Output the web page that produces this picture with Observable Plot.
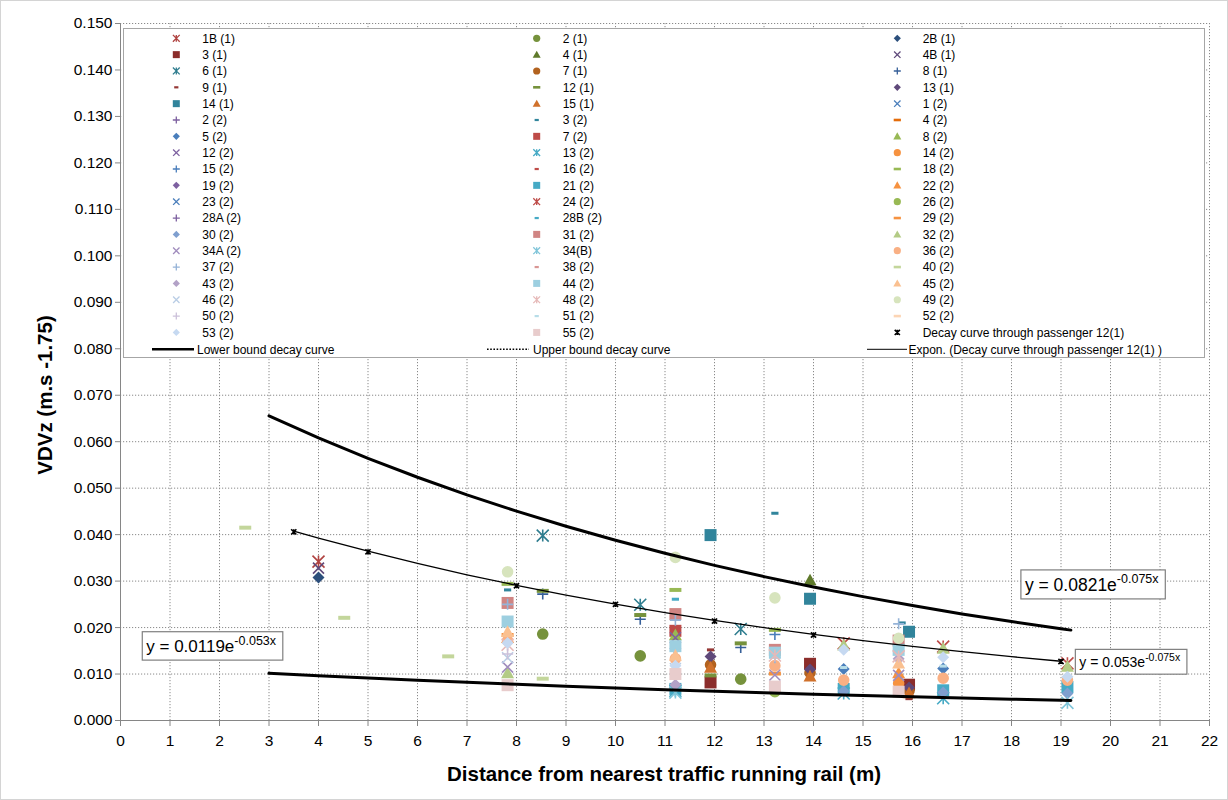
<!DOCTYPE html>
<html>
<head>
<meta charset="utf-8">
<script src="https://cdn.jsdelivr.net/npm/d3@7"></script>
<script src="https://cdn.jsdelivr.net/npm/@observablehq/plot@0.6"></script>
<style>
  html, body { margin: 0; padding: 0; background: #ffffff; }
  #chart { width: 1228px; height: 800px; }
  #chart svg { display: block; }
</style>
</head>
<body>
<div id="chart"></div>
<script>
// Passenger series, in legend order
const seriesNames = ["1B (1)", "2 (1)", "2B (1)", "3 (1)", "4 (1)", "4B (1)", "6 (1)", "7 (1)", "8 (1)",
  "9 (1)", "12 (1)", "13 (1)", "14 (1)", "15 (1)", "1 (2)", "2 (2)", "3 (2)", "4 (2)", "5 (2)", "7 (2)",
  "8 (2)", "12 (2)", "13 (2)", "14 (2)", "15 (2)", "16 (2)", "18 (2)", "19 (2)", "21 (2)", "22 (2)",
  "23 (2)", "24 (2)", "26 (2)", "28A (2)", "28B (2)", "29 (2)", "30 (2)", "31 (2)", "32 (2)", "34A (2)",
  "34(B)", "36 (2)", "37 (2)", "38 (2)", "40 (2)", "43 (2)", "44 (2)", "45 (2)", "46 (2)", "48 (2)",
  "49 (2)", "50 (2)", "51 (2)", "52 (2)", "53 (2)", "55 (2)"];

// Marker shape of each series
const seriesMarkers = ["star", "circle", "diamond", "square", "triangle", "x", "star", "circle", "plus",
  "short dash", "long dash", "diamond", "square", "triangle", "x", "plus", "short dash", "long dash", "diamond", "square",
  "triangle", "x", "star", "circle", "plus", "short dash", "long dash", "diamond", "square", "triangle",
  "x", "star", "circle", "plus", "short dash", "long dash", "diamond", "square", "triangle", "x",
  "star", "circle", "plus", "short dash", "long dash", "diamond", "square", "triangle", "x", "star",
  "circle", "plus", "short dash", "long dash", "diamond", "square"];

// Marker colour of each series
const seriesColors = ["#b04341", "#76923c", "#2c4f7c", "#8b2d2b", "#5f7a2b", "#604a7b", "#2f7d8f", "#b2621f", "#376099",
  "#953735", "#76923c", "#5f497a", "#31849b", "#d0712b", "#4a7ebb", "#7d60a0", "#31859c", "#e46c0a", "#4a7ebb", "#be4b48",
  "#98b954", "#7d60a0", "#46aac5", "#f69240", "#4a7ebb", "#be4b48", "#98b954", "#7d60a0", "#46aac5", "#f69240",
  "#4a7ebb", "#be4b48", "#98b954", "#7d60a0", "#46aac5", "#f69240", "#7f9fcf", "#d08583", "#b3cb85", "#a08cbd",
  "#80c5d9", "#f9b084", "#95b3d7", "#d99694", "#c3d69b", "#b3a2c7", "#9dcfe0", "#fac090", "#b9cde5", "#e6b9b8",
  "#d7e4bd", "#ccc1da", "#b7dde8", "#fcd5b5", "#c6d9f1", "#e8cccc"];

// Measured VDVz readings: series, distance from rail (m), VDVz
const obsSeries = [
  "40 (2)",
  "1B (1)", "4B (1)", "2B (1)",
  "40 (2)",
  "40 (2)",
  "49 (2)", "18 (2)", "3 (2)", "31 (2)", "37 (2)", "44 (2)", "45 (2)", "29 (2)", "22 (2)", "36 (2)", "53 (2)", "48 (2)", "50 (2)", "46 (2)", "34A (2)", "32 (2)", "55 (2)",
  "6 (1)", "12 (1)", "8 (1)", "2 (1)", "40 (2)",
  "6 (1)", "12 (1)", "8 (1)", "2 (1)",
  "49 (2)", "18 (2)", "28B (2)", "31 (2)", "37 (2)", "7 (2)", "8 (2)", "12 (2)", "44 (2)", "30 (2)", "45 (2)", "36 (2)", "53 (2)", "46 (2)", "55 (2)", "43 (2)", "21 (2)", "13 (2)", "34(B)",
  "14 (1)", "9 (1)", "13 (1)", "7 (1)", "15 (1)", "12 (1)", "3 (1)",
  "6 (1)", "12 (1)", "8 (1)", "2 (1)",
  "3 (2)", "49 (2)", "18 (2)", "15 (2)", "31 (2)", "44 (2)", "48 (2)", "37 (2)", "36 (2)", "29 (2)", "34A (2)", "55 (2)", "26 (2)",
  "4 (1)", "14 (1)", "3 (1)", "13 (1)", "7 (1)", "15 (1)",
  "24 (2)", "32 (2)", "53 (2)", "51 (2)", "5 (2)", "36 (2)", "21 (2)", "30 (2)", "13 (2)",
  "37 (2)", "3 (2)", "49 (2)", "31 (2)", "44 (2)", "48 (2)", "43 (2)", "45 (2)", "22 (2)", "34A (2)", "14 (2)", "55 (2)",
  "14 (1)", "3 (1)", "13 (1)", "7 (1)", "15 (1)", "9 (1)",
  "24 (2)", "32 (2)", "53 (2)", "51 (2)", "5 (2)", "36 (2)", "21 (2)", "30 (2)", "13 (2)",
  "24 (2)", "32 (2)", "53 (2)", "36 (2)", "21 (2)", "30 (2)", "34(B)"];

const obsDistance = [
  2.52,
  4.0, 4.0, 4.0,
  4.52,
  6.62,
  7.82, 7.82, 7.82, 7.82, 7.82, 7.82, 7.82, 7.82, 7.82, 7.82, 7.82, 7.82, 7.82, 7.82, 7.82, 7.82, 7.82,
  8.53, 8.53, 8.53, 8.53, 8.53,
  10.5, 10.5, 10.5, 10.5,
  11.21, 11.21, 11.21, 11.21, 11.21, 11.21, 11.21, 11.21, 11.21, 11.21, 11.21, 11.21, 11.21, 11.21, 11.21, 11.21, 11.21, 11.21, 11.21,
  11.92, 11.92, 11.92, 11.92, 11.92, 11.92, 11.92,
  12.53, 12.53, 12.53, 12.53,
  13.22, 13.22, 13.22, 13.22, 13.22, 13.22, 13.22, 13.22, 13.22, 13.22, 13.22, 13.22, 13.22,
  13.93, 13.93, 13.93, 13.93, 13.93, 13.93,
  14.61, 14.61, 14.61, 14.61, 14.61, 14.61, 14.61, 14.61, 14.61,
  15.72, 15.79, 15.72, 15.72, 15.72, 15.72, 15.72, 15.72, 15.72, 15.72, 15.72, 15.72,
  15.93, 15.93, 15.93, 15.93, 15.93, 15.93,
  16.62, 16.62, 16.62, 16.62, 16.62, 16.62, 16.62, 16.62, 16.62,
  19.13, 19.13, 19.13, 19.13, 19.13, 19.13, 19.13];

const obsVDV = [
  0.0415,
  0.0342, 0.0328, 0.0308,
  0.0221,
  0.0138,
  0.0320, 0.0294, 0.0281, 0.0253, 0.0250, 0.0213, 0.0191, 0.0184, 0.0178, 0.0172, 0.0167, 0.0163, 0.0143, 0.0135, 0.0115, 0.0102, 0.0076,
  0.0398, 0.0279, 0.0272, 0.0186, 0.0090,
  0.0249, 0.0227, 0.0218, 0.0139,
  0.0351, 0.0281, 0.0261, 0.0229, 0.0216, 0.0193, 0.0184, 0.0178, 0.0160, 0.0155, 0.0140, 0.0133, 0.0118, 0.0112, 0.0100, 0.0077, 0.0068, 0.0064, 0.0060,
  0.0399, 0.0152, 0.0138, 0.0120, 0.0114, 0.0097, 0.0082,
  0.0197, 0.0166, 0.0157, 0.0089,
  0.0446, 0.0264, 0.0195, 0.0185, 0.0152, 0.0146, 0.0140, 0.0135, 0.0118, 0.0101, 0.0098, 0.0073, 0.0062,
  0.0302, 0.0262, 0.0122, 0.0110, 0.0103, 0.0095,
  0.0166, 0.0162, 0.0152, 0.0114, 0.0111, 0.0087, 0.0068, 0.0063, 0.0058,
  0.0208, 0.0210, 0.0177, 0.0172, 0.0152, 0.0138, 0.0133, 0.0123, 0.0102, 0.0097, 0.0080, 0.0062,
  0.0191, 0.0077, 0.0071, 0.0064, 0.0059, 0.0047,
  0.0159, 0.0155, 0.0136, 0.0117, 0.0112, 0.0091, 0.0065, 0.0060, 0.0048,
  0.0123, 0.0116, 0.0094, 0.0087, 0.0072, 0.0058, 0.0038];

// Decay curve through passenger 12(1)
const decayDistance = [3.5, 5, 8, 10, 12, 14, 19.0];
const decayVDV = [0.0406, 0.0363, 0.0290, 0.0250, 0.0214, 0.0184, 0.0127];

// Exponential curves y = a·e^(-b·x) as stated by their labels
const fitNames = ["Lower bound decay curve", "Upper bound decay curve", "Expon. (Decay curve through passenger 12(1) )"];
const fitA = [0.0119, 0.0821, 0.053];
const fitB = [0.053, 0.075, 0.075];
const boundDistances = [3, 4, 5, 6, 7, 8, 9, 10, 11, 12, 13, 14, 15, 16, 17, 18, 19, 19.2];
const trendDistances = [3.5, 4, 5, 6, 7, 8, 9, 10, 11, 12, 13, 14, 15, 16, 17, 18, 19];

// Axis ticks
const xTicks = [0, 1, 2, 3, 4, 5, 6, 7, 8, 9, 10, 11, 12, 13, 14, 15, 16, 17, 18, 19, 20, 21, 22];
const yTicks = [0, 0.01, 0.02, 0.03, 0.04, 0.05, 0.06, 0.07, 0.08, 0.09, 0.1, 0.11, 0.12, 0.13, 0.14, 0.15];

const FONT = "'Liberation Sans', Arial, sans-serif";

// Marker shapes (s = half size in px)
function makeSymbol(kind, s) {
  return {
    draw(p) {
      switch (kind) {
        case "diamond":
          p.moveTo(0, -s); p.lineTo(s, 0); p.lineTo(0, s); p.lineTo(-s, 0); p.closePath(); break;
        case "square":
          p.rect(-s, -s, 2 * s, 2 * s); break;
        case "triangle":
          p.moveTo(0, -s); p.lineTo(s, s * 0.8); p.lineTo(-s, s * 0.8); p.closePath(); break;
        case "circle":
          p.moveTo(s, 0); p.arc(0, 0, s, 0, 2 * Math.PI); break;
        case "x":
          p.moveTo(-s, -s); p.lineTo(s, s); p.moveTo(s, -s); p.lineTo(-s, s); break;
        case "star":
          p.moveTo(-s, -s); p.lineTo(s, s); p.moveTo(s, -s); p.lineTo(-s, s);
          p.moveTo(0, -s); p.lineTo(0, s); break;
        case "plus":
          p.moveTo(-s, 0); p.lineTo(s, 0); p.moveTo(0, -s); p.lineTo(0, s); break;
        case "short dash": {
          const w = s * 1.2, h = Math.max(2.2, s * 0.5);
          p.rect(-w / 2, -h / 2, w, h); break;
        }
        case "long dash": {
          const w = s * 2, h = Math.max(2.6, s * 0.66);
          p.rect(-w / 2, -h / 2, w, h); break;
        }
      }
    }
  };
}
const STROKED = new Set(["x", "star", "plus"]);
const markerSize = {diamond: 6, square: 6, triangle: 6.5, circle: 5.8, x: 5.5, star: 6, plus: 5.5, "short dash": 6, "long dash": 6};
const legendSize = {diamond: 3.6, square: 3.5, triangle: 4, circle: 3.6, x: 3.2, star: 3.4, plus: 3.5, "short dash": 3.5, "long dash": 3.6};

const obs = obsSeries.map((s, i) => ({series: s, x: obsDistance[i], y: obsVDV[i]}));
const decay = decayDistance.map((x, i) => ({x, y: decayVDV[i]}));
const curve = (k, xs) => xs.map((x) => ({x, y: fitA[k] * Math.exp(-fitB[k] * x)}));

// One dot mark per series, drawn in legend order
const seriesMarks = seriesNames.map((name, i) => {
  const kind = seriesMarkers[i], color = seriesColors[i];
  const stroked = STROKED.has(kind);
  return Plot.dot(obs.filter((d) => d.series === name), {
    x: "x", y: "y",
    symbol: makeSymbol(kind, markerSize[kind]),
    fill: stroked ? "none" : color,
    stroke: stroked ? color : "none",
    strokeWidth: stroked ? 1.6 : 0
  });
});

const gridStyle = {stroke: "#8a8a8a", strokeOpacity: 1, strokeWidth: 1, strokeDasharray: "1.2,1.8"};

const plot = Plot.plot({
  width: 1228,
  height: 800,
  marginLeft: 120,
  marginRight: 19,
  marginTop: 23,
  marginBottom: 80,
  style: {fontFamily: FONT, fontSize: "15.5px", color: "#000", background: "#fff"},
  x: {domain: [0, 22]},
  y: {domain: [0, 0.15]},
  marks: [
    Plot.gridX(xTicks.slice(1), gridStyle),
    Plot.gridY(yTicks.slice(1), gridStyle),
    Plot.axisX({ticks: xTicks, tickSize: 6, tickPadding: 8, stroke: "#868686", label: null, tickFormat: (d) => String(d)}),
    Plot.axisY({ticks: yTicks, tickSize: 5, tickPadding: 3, stroke: "#868686", label: null, tickFormat: d3.format(".3f")}),
    Plot.ruleX([0], {stroke: "#868686"}),
    Plot.ruleY([0], {stroke: "#868686"}),
    ...seriesMarks,
    Plot.line(curve(0, boundDistances), {x: "x", y: "y", stroke: "#000", strokeWidth: 3}),
    Plot.line(curve(1, boundDistances), {x: "x", y: "y", stroke: "#000", strokeWidth: 3}),
    Plot.line(curve(2, trendDistances), {x: "x", y: "y", stroke: "#000", strokeWidth: 1.3}),
    Plot.dot(decay, {x: "x", y: "y", symbol: makeSymbol("star", 2.6), stroke: "#000", strokeWidth: 1.6, fill: "none"})
  ]
});

document.getElementById("chart").append(plot);
const svg = d3.select(plot);
const sx = plot.scale("x"), sy = plot.scale("y");

// Outer chart border
svg.append("rect").attr("x", 0.5).attr("y", 0.5).attr("width", 1227).attr("height", 799)
  .attr("fill", "none").attr("stroke", "#d4d4d4");

// Axis titles
svg.append("text")
  .attr("x", 664).attr("y", 781)
  .attr("text-anchor", "middle").attr("font-weight", "bold").attr("font-size", 20.5)
  .attr("fill", "#000")
  .text("Distance from nearest traffic running rail (m)");
svg.append("text")
  .attr("transform", "translate(52,395) rotate(-90)")
  .attr("text-anchor", "middle").attr("font-weight", "bold").attr("font-size", 20.5)
  .attr("fill", "#000")
  .text("VDVz (m.s -1.75)");

// Equation labels of the fitted curves
function equationBox(k, left, top, size, supSize) {
  const g = svg.append("g").attr("text-anchor", "start");
  const rect = g.append("rect").attr("fill", "#fff").attr("stroke", "#7f7f7f").attr("stroke-width", 1.2);
  const t = g.append("text").attr("font-size", size).attr("fill", "#000");
  t.append("tspan").text(`y = ${fitA[k]}e`);
  t.append("tspan").attr("font-size", supSize).attr("dy", -size * 0.42).text(`-${fitB[k]}x`);
  const padX = 4, padY = 4;
  t.attr("x", left + padX).attr("y", top + padY + size * 0.95);
  const bb = t.node().getBBox();
  rect.attr("x", left).attr("y", top)
    .attr("width", bb.width + 2 * padX + 2).attr("height", size * 1.2 + 2 * padY);
}
equationBox(1, sx.apply(18.2), sy.apply(0.0323), 17.5, 12.5);
equationBox(2, sx.apply(19.3), sy.apply(0.0152), 14, 10.5);
equationBox(0, sx.apply(0.45), sy.apply(0.0190), 17, 12.5);

// Legend
const lg = svg.append("g").attr("font-size", 12).attr("fill", "#000").attr("text-anchor", "start");
lg.append("rect").attr("x", 123.5).attr("y", 28.5).attr("width", 1081).attr("height", 329)
  .attr("fill", "#fff").attr("stroke", "#a6a6a6");
const colMarker = [176.3, 536.7, 897.3];
const colText = [202.3, 562.7, 922.7];
const rowY = (r) => 38.3 + r * 16.34;
const legendItems = seriesNames.map((name, i) => ({name, kind: seriesMarkers[i], color: seriesColors[i]}));
legendItems.forEach((item, i) => {
  const r = Math.floor(i / 3), c = i % 3, y = rowY(r);
  const stroked = STROKED.has(item.kind);
  lg.append("path")
    .attr("transform", `translate(${colMarker[c]},${y})`)
    .attr("d", d3.symbol(makeSymbol(item.kind, legendSize[item.kind]))())
    .attr("fill", stroked ? "none" : item.color)
    .attr("stroke", stroked ? item.color : "none")
    .attr("stroke-width", stroked ? 1.3 : 0);
  lg.append("text").attr("x", colText[c]).attr("y", y + 4.3).text(item.name);
});
{
  const i = legendItems.length, r = Math.floor(i / 3), c = i % 3, y = rowY(r);
  lg.append("path").attr("transform", `translate(${colMarker[c]},${y})`)
    .attr("d", d3.symbol(makeSymbol("star", 2.6))())
    .attr("fill", "none").attr("stroke", "#000").attr("stroke-width", 1.6);
  lg.append("text").attr("x", colText[c]).attr("y", y + 4.3).text("Decay curve through passenger 12(1)");
}
{
  const y = 349.3;
  lg.append("line").attr("x1", 152).attr("x2", 194).attr("y1", y).attr("y2", y)
    .attr("stroke", "#000").attr("stroke-width", 2.6);
  lg.append("text").attr("x", 197).attr("y", y + 4.3).text(fitNames[0]);
  lg.append("line").attr("x1", 487).attr("x2", 529).attr("y1", y).attr("y2", y)
    .attr("stroke", "#000").attr("stroke-width", 1.6).attr("stroke-dasharray", "1.6,1.6");
  lg.append("text").attr("x", 533).attr("y", y + 4.3).text(fitNames[1]);
  lg.append("line").attr("x1", 867).attr("x2", 907).attr("y1", y).attr("y2", y)
    .attr("stroke", "#000").attr("stroke-width", 1);
  lg.append("text").attr("x", 908.5).attr("y", y + 4.3).text(fitNames[2]);
}
</script>
</body>
</html>
